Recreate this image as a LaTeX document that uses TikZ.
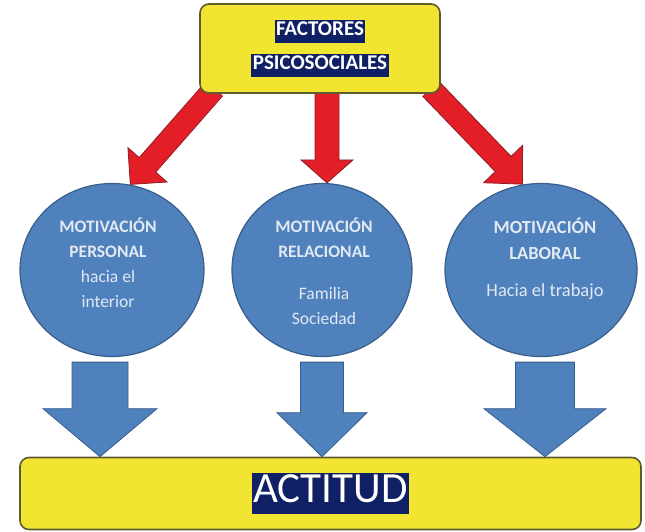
\documentclass[tikz,border=0pt]{standalone}
\usepackage{fontspec}
\setmainfont{Carlito}
\usepackage{tikz}
\usetikzlibrary{shapes.geometric, calc, positioning, backgrounds}

\definecolor{boxyellow}{RGB}{242,229,50}
\definecolor{boxedge}{RGB}{94,91,50}
\definecolor{circblue}{RGB}{79,129,189}
\definecolor{circedge}{RGB}{56,93,138}
\definecolor{arrred}{RGB}{228,30,38}
\definecolor{arredge}{RGB}{140,30,40}
\definecolor{hlnavy}{RGB}{16,32,100}
\definecolor{circtext}{RGB}{226,233,243}

\newcommand{\hilite}[1]{{\setlength{\fboxsep}{1.5pt}\colorbox{hlnavy}{\rule[-0.25em]{0pt}{0.8em}\textcolor{white}{#1}}}}

% block arrow: style, from, to, shaft half width, head half width, head length
\newcommand{\blockarrow}[6]{%
  \path[#1] let \p1=(#2), \p2=(#3),
    \n1={atan2(\y2-\y1,\x2-\x1)}, \n2={veclen(\x2-\x1,\y2-\y1)} in
    [shift={(\p1)}, rotate=\n1]
    (0pt,-#4) -- ({\n2-#6},-#4) -- ({\n2-#6},-#5) -- (\n2,0pt)
    -- ({\n2-#6},#5) -- ({\n2-#6},#4) -- (0pt,#4) -- cycle;}

\begin{document}
\begin{tikzpicture}[
    x=1pt, y=-1pt,
    topbox/.style={rectangle, draw=boxedge, line width=1.6pt, fill=boxyellow, rounded corners=9pt,
        minimum width=240pt, minimum height=89pt, align=center, font=\bfseries\fontsize{21}{34}\selectfont},
    barbox/.style={rectangle, draw=boxedge, line width=1.6pt, fill=boxyellow, rounded corners=9pt,
        minimum width=621pt, minimum height=72pt, font=\fontsize{43}{46}\selectfont},
    motiv/.style={ellipse, draw=circedge, line width=1.2pt, fill=circblue, inner sep=0pt,
        minimum width=184pt, minimum height=173pt},
    motivtext/.style={align=center, text=circtext, font=\fontsize{17.5}{25}\selectfont},
    redarrow/.style={fill=arrred, draw=arredge, line width=0.8pt},
    bluearrow/.style={fill=circblue, draw=circedge, line width=0.8pt}
]
\useasboundingbox (0,0) rectangle (645,531);

% Nodes
\node[topbox] (factores) at (320,48.5) {\hilite{FACTORES}\\\hilite{PSICOSOCIALES}};

\node[motiv] (pers) at (112,270) {};
\node[motiv, minimum width=180pt] (rel) at (322,270) {};
\node[motiv, minimum width=192pt] (lab) at (541,270) {};

\node[motivtext] (perstext) at (108,263) {\textbf{MOTIVACIÓN}\\\textbf{PERSONAL}\\hacia el\\interior};
\node[motivtext] (reltext) at (324,271) {\textbf{MOTIVACIÓN}\\\textbf{RELACIONAL}\\[17pt]Familia\\Sociedad};
\node[motivtext, font=\fontsize{18.5}{26}\selectfont] (labtext) at (545,259) {\textbf{MOTIVACIÓN}\\\textbf{LABORAL}\\[11pt]Hacia el trabajo};

\node[barbox] (actitud) at (330.5,493.5) {\hilite{ACTITUD}};

% Arrows
\begin{pgfonlayer}{background}
\blockarrow{redarrow}{[shift={(15pt,5pt)}]factores.south west}{pers.78}{11pt}{26pt}{26pt}
\blockarrow{redarrow}{[shift={(5pt,8pt)}]factores.south -| rel.north}{[xshift=5pt]rel.north}{12pt}{26pt}{23pt}
\blockarrow{redarrow}{[shift={(-10pt,5pt)}]factores.south east}{lab.102}{11pt}{27pt}{28pt}
\end{pgfonlayer}

\blockarrow{bluearrow}{[shift={(-12pt,-5pt)}]pers.south}{[xshift=-12pt]pers.south |- actitud.north}{28pt}{57pt}{48pt}
\blockarrow{bluearrow}{[yshift=-5pt]rel.south}{rel.south |- actitud.north}{21.5pt}{45pt}{44pt}
\blockarrow{bluearrow}{[shift={(4pt,-5pt)}]lab.south}{[xshift=4pt]lab.south |- actitud.north}{29.5pt}{61pt}{48pt}

\end{tikzpicture}
\end{document}
